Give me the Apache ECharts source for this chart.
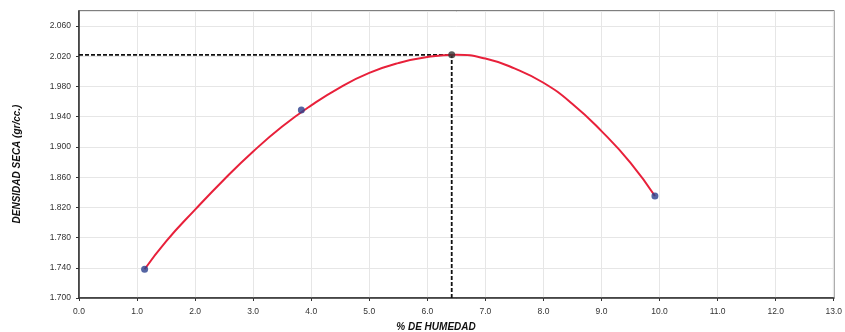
<!DOCTYPE html>
<html>
<head>
<meta charset="utf-8">
<script src="https://cdn.jsdelivr.net/npm/echarts@6/dist/echarts.min.js"></script>
<style>
  html, body { margin: 0; padding: 0; background: #fff; }
  #chart { width: 845px; height: 332px; }
</style>
</head>
<body>
<div id="chart"></div>
<script>
// Compaction test: moisture content (%) vs. dry density (gr/cc.)
const moisture = [1.13, 3.83, 6.42, 9.92];
const dryDensity = [1.738, 1.949, 2.022, 1.835];

// Fitted compaction curve, sampled along the moisture axis
const curveX = [1.13, 1.5, 2.0, 2.5, 3.0, 3.5, 4.0, 4.5, 5.0, 5.5, 6.0, 6.5, 7.0, 7.5, 8.0, 8.5, 9.0, 9.5, 9.92];
const curveY = [1.738, 1.775, 1.817, 1.857, 1.894, 1.927, 1.955, 1.979, 1.998, 2.011, 2.019, 2.022, 2.017, 2.004, 1.985, 1.957, 1.921, 1.879, 1.835];

// Optimum moisture / maximum dry density
const optMoisture = 6.42;
const maxDensity = 2.022;

const xTicks = { min: 0, max: 13, step: 1 };
const yTicks = { min: 1.70, max: 2.08, step: 0.04 };

const font = 'Liberation Sans, Arial, sans-serif';

const chart = echarts.init(document.getElementById('chart'));
chart.setOption({
  animation: false,
  backgroundColor: '#ffffff',
  grid: {
    left: 79, right: 8, top: 11, bottom: 34,
    show: true, borderColor: '#555', borderWidth: 1.5
  },
  xAxis: {
    type: 'value',
    min: xTicks.min, max: xTicks.max, interval: xTicks.step,
    axisLine: { show: true, onZero: false, lineStyle: { color: '#333', width: 1.5 } },
    axisTick: { show: true, length: 3, lineStyle: { color: '#333' } },
    axisLabel: {
      color: '#333', fontFamily: font, fontSize: 8.5, margin: 9,
      formatter: v => v.toFixed(1)
    },
    splitLine: { show: true, lineStyle: { color: '#e6e6e6', width: 1 } }
  },
  yAxis: {
    type: 'value',
    min: yTicks.min, max: yTicks.max, interval: yTicks.step,
    axisLine: { show: true, onZero: false, lineStyle: { color: '#333', width: 1.5 } },
    axisTick: { show: true, length: 3, lineStyle: { color: '#333' } },
    axisLabel: {
      color: '#333', fontFamily: font, fontSize: 8.5, margin: 8,
      showMaxLabel: false,
      formatter: v => (Math.abs(v - yTicks.max) < 1e-6 ? '' : v.toFixed(3))
    },
    splitLine: { show: true, lineStyle: { color: '#e6e6e6', width: 1 } }
  },
  graphic: [
    {
      type: 'text', x: 436, y: 327,
      style: {
        text: '% DE HUMEDAD', fill: '#111',
        font: 'italic bold 10px ' + font,
        textAlign: 'center', textVerticalAlign: 'middle'
      }
    },
    {
      type: 'text', x: 17, y: 164, rotation: Math.PI / 2,
      style: {
        text: 'DENSIDAD SECA (gr/cc.)', fill: '#111',
        font: 'italic bold 10px ' + font,
        textAlign: 'center', textVerticalAlign: 'middle'
      }
    }
  ],
  series: [
    {
      name: 'guide',
      type: 'line',
      data: [[xTicks.min, maxDensity], [optMoisture, maxDensity], [optMoisture, yTicks.min]],
      symbol: 'none',
      lineStyle: { color: '#111', width: 1.8, type: [4, 2] },
      z: 2
    },
    {
      name: 'curve',
      type: 'line',
      data: curveX.map((x, i) => [x, curveY[i]]),
      smooth: true,
      symbol: 'none',
      lineStyle: { color: '#e8203a', width: 2 },
      z: 3
    },
    {
      name: 'points',
      type: 'scatter',
      data: moisture.map((x, i) => [x, dryDensity[i]]),
      symbolSize: 7,
      itemStyle: {
        color: p => (p.dataIndex === 2 ? '#333' : '#2b3f8c')
      },
      z: 4
    }
  ]
});
</script>
</body>
</html>
